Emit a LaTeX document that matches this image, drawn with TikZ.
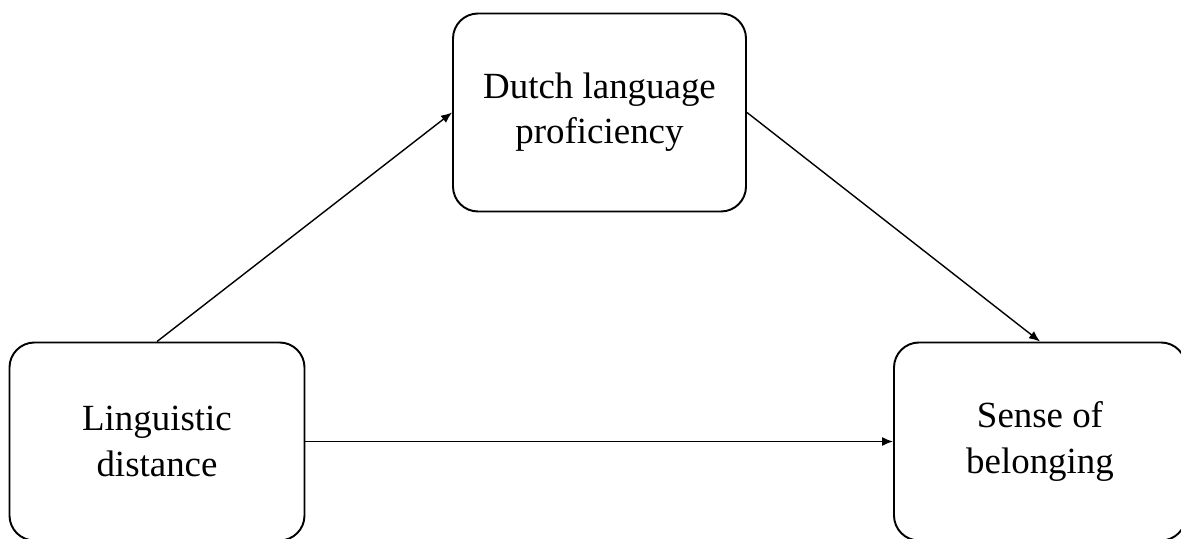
\documentclass[tikz,border=0pt]{standalone}
\usepackage{fontspec}
\setmainfont{Liberation Serif}
\usepackage{tikz}
\usetikzlibrary{arrows.meta,positioning,calc}
\tikzset{
  varbox/.style={rectangle, rounded corners=0.5cm, draw=black, line width=1.1pt, fill=white,
                 align=center, font=\fontsize{21}{25.8}\selectfont, inner sep=0pt,
                 minimum width=5.9cm, minimum height=3.96cm},
  arr/.style={-{Latex[length=2.2mm, width=1.8mm]}, line width=0.8pt, draw=black},
}
\begin{document}
\begin{tikzpicture}
        \useasboundingbox (0,0) rectangle (23.62,10.78);
        \node[varbox] (ling) at (3.14,1.95) {Linguistic\\distance};
        \node[varbox, minimum width=5.86cm] (dutch) at (11.99,8.53) {Dutch language\\proficiency};
        \node[varbox, minimum width=5.84cm] (sense) at (20.8,1.95) {Sense of\\belonging};
        \draw[arr] (ling.north) -- (dutch.west);
        \draw[arr] (dutch.east) -- (sense.north);
        \draw[arr] (ling.east) -- (sense.west);
      \end{tikzpicture}
\end{document}
